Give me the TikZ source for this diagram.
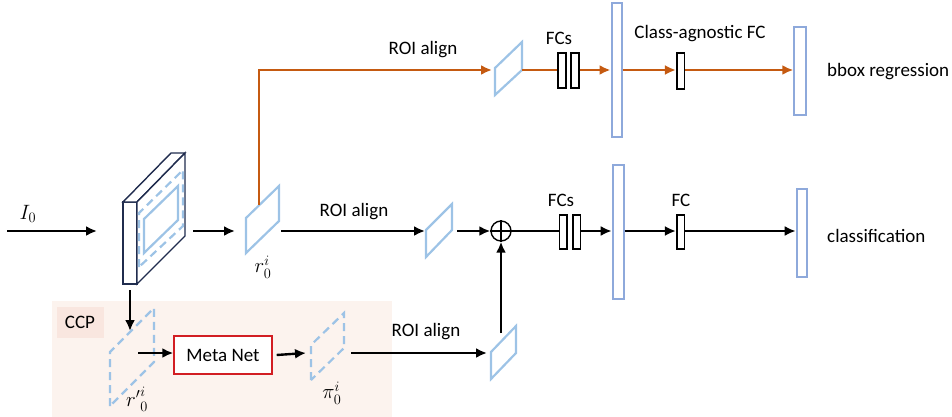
\documentclass[tikz,border=0pt]{standalone}
\usepackage{fontspec}
\setmainfont{Carlito}
\usetikzlibrary{arrows.meta}
\definecolor{lblue}{RGB}{157,195,230}
\definecolor{barblue}{RGB}{142,169,219}
\definecolor{orng}{RGB}{197,90,17}
\definecolor{navy}{RGB}{32,44,78}
\definecolor{mred}{RGB}{210,30,35}
\definecolor{ccpbg}{RGB}{252,243,238}
\definecolor{ccplab}{RGB}{249,230,223}
\begin{document}
\begin{tikzpicture}[x=1pt,y=-1pt,
  every node/.style={font=\fontsize{19}{22}\selectfont},
  mathlbl/.style={inner sep=0pt,font=\fontsize{22}{25}\selectfont},
  arr/.style={line width=2.4pt,-{Latex[length=11pt,width=10pt]}},
  oarr/.style={arr,draw=orng},
  plainline/.style={line width=2.4pt},
  fcbox/.style={draw=black,line width=1.6pt,fill=white,minimum width=8pt,minimum height=34pt,inner sep=0pt},
  fbar/.style={draw=barblue,line width=2pt,minimum width=10pt,inner sep=0pt},
  feat/.style={draw=lblue,line width=2.2pt,line join=miter},
  dfeat/.style={feat,dash pattern=on 8pt off 5pt},
  blk/.style={draw=navy,line width=1.4pt,fill=white,line join=miter},
  lbl/.style={inner sep=0pt}
]
\useasboundingbox (0,0) rectangle (952,417);

% CCP background
\fill[ccpbg] (52,301) rectangle (392,417);
\node[fill=ccplab,minimum width=47pt,minimum height=31pt,inner sep=0pt] (ccp) at (80,322) {CCP};

% input
\coordinate (in) at (7,231);
\coordinate (blkL) at (97,231);
\draw[arr] (in) -- (blkL);
\node[mathlbl] (I0) at (28,214) {$I_0$};

% feature block
\draw[blk] (123,202) rectangle (137,284);
\draw[blk] (123,202) -- (171,153) -- (185,153) -- (137,202) -- cycle;
\draw[blk] (137,202) -- (185,153) -- (185,236) -- (137,284) -- cycle;
\draw[dfeat] (139,267) -- (139,213) -- (183,170) -- (183,226) -- cycle;
\draw[feat] (144,253) -- (144,219) -- (178,186) -- (178,220) -- cycle;
\coordinate (blkR) at (193,231);
\coordinate (blkB) at (130,290);

% r0
\draw[feat] (246,253) -- (246,218) -- (279,186) -- (279,221) -- cycle;
\coordinate (r0in) at (235,231);
\coordinate (r0top) at (259,205);
\coordinate (r0out) at (281,231);
\node[mathlbl] (r0lab) at (263,267) {$r_0^i$};
\draw[arr] (blkR) -- (r0in);

% ---------- top branch (orange) ----------
\coordinate (pTin) at (492,70);
\draw[oarr] (r0top) |- (pTin);
\node[lbl] (roiT) at (423,50) {ROI align};
\draw[feat] (495,95) -- (495,68) -- (522,42) -- (522,70) -- cycle;
\coordinate (pTout) at (522,70);
\node[fcbox,minimum width=8pt,minimum height=35pt] (fcT1) at (561.7,70.5) {};
\node[fcbox,minimum width=8pt,minimum height=35pt] (fcT2) at (575,70.5) {};
\node[lbl] (fcsT) at (559,38) {FCs};
\node[fbar,minimum height=134pt] (barT) at (616.5,70) {};
\node[fcbox,minimum width=7.6pt,minimum height=36pt] (fcA) at (680.5,71) {};
\node[lbl] (caT) at (700,34) {Class-agnostic FC};
\node[fbar,minimum width=11.4pt,minimum height=88pt] (barTR) at (800,71) {};
\node[lbl,anchor=west] (bbox) at (827,72) {bbox regression};
\draw[plainline,orng] (pTout) -- (fcT1.west |- pTout);
\draw[oarr] (fcT2.east |- pTout) -- (barT.west |- pTout);
\draw[oarr] (barT.east |- pTout) -- (fcA.west |- pTout);
\draw[oarr] (fcA.east |- pTout) -- (barTR.west |- pTout);

% ---------- middle branch ----------
\coordinate (pMin) at (425,231);
\draw[arr] (r0out) -- (pMin);
\node[lbl] (roiM) at (354,212) {ROI align};
\draw[feat] (426,257) -- (426,230) -- (452,204) -- (452,230) -- cycle;
\coordinate (pMout) at (457,231);
\node[circle,draw,line width=1.4pt,minimum size=20pt,inner sep=0pt] (op) at (501,231) {};
\draw[line width=1.4pt] (op.north) -- (op.south) (op.west) -- (op.east);
\draw[arr] (pMout) -- (op.west);
\node[fcbox,minimum width=7.4pt] (fcM1) at (563,232) {};
\node[fcbox,minimum width=7.4pt] (fcM2) at (576.7,232) {};
\node[lbl] (fcsM) at (561,200) {FCs};
\node[fbar,minimum width=11pt,minimum height=134pt] (barM) at (618.2,232) {};
\node[fcbox,minimum width=7.6pt] (fcMb) at (680.5,232) {};
\node[lbl] (fcM) at (681,200) {FC};
\node[fbar,minimum width=10.6pt,minimum height=88pt] (barMR) at (802,232.5) {};
\node[lbl,anchor=west] (cls) at (827,236) {classification};
\draw[plainline] (op.east) -- (fcM1.west |- op.east);
\draw[arr] (fcM2.east |- op.east) -- (barM.west |- op.east);
\draw[arr] (barM.east |- op.east) -- (fcMb.west |- op.east);
\draw[arr] (fcMb.east |- op.east) -- (barMR.west |- op.east);

% ---------- CCP branch ----------
\coordinate (rpIn) at (130,331);
\draw[arr] (blkB) -- (rpIn);
\draw[dfeat] (110,406) -- (110,352) -- (154,308) -- (154,362) -- cycle;
\node[mathlbl] (rplab) at (137,399) {${r'}^{i}_{0}$};
\coordinate (rpOut) at (138,353);
\node[draw=mred,line width=1.4pt,fill=white,minimum width=98pt,minimum height=38pt,inner sep=0pt] (meta) at (223,355) {Meta Net};
\draw[arr] (rpOut) -- (rpOut -| meta.west);
\coordinate (piIn) at (306,353);
\draw[arr] ([xshift=4pt]meta.east) -- (piIn);
\draw[dfeat] (311,380) -- (311,345) -- (344,313) -- (344,348) -- cycle;
\node[mathlbl] (pilab) at (332,393) {$\pi_0^i$};
\coordinate (piOut) at (351,353);
\coordinate (pBin) at (487,353);
\draw[arr] (piOut) -- (pBin);
\node[lbl] (roiB) at (426,332) {ROI align};
\draw[feat] (491,379) -- (491,352) -- (516,326) -- (516,353) -- cycle;
\coordinate (pBout) at (501,333);
\draw[arr] (pBout) -- (op.south);
\end{tikzpicture}
\end{document}
